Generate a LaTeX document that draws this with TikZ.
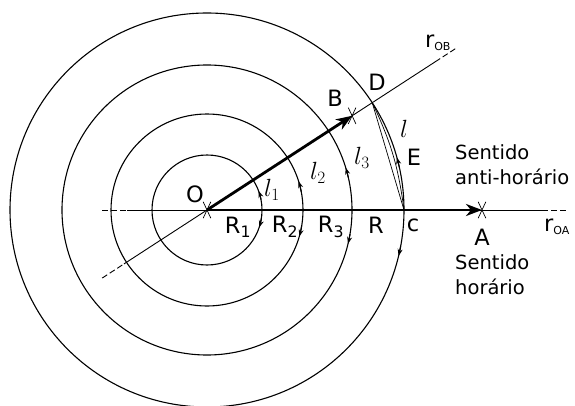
\documentclass[tikz,border=0pt]{standalone}
\usepackage{fontspec}
\setmainfont{DejaVu Sans}
\usetikzlibrary{arrows.meta,calc}
\begin{document}
\begin{tikzpicture}[x=1pt,y=1pt,
  font=\fontsize{22.5}{25}\selectfont,
  circ/.style={line width=1.1pt},
  axis/.style={line width=0.9pt},
  dashpart/.style={line width=0.9pt,dash pattern=on 6pt off 3pt},
  bigarrow/.style={line width=2.8pt,-{Stealth[length=16pt,width=12pt,inset=5pt]}},
  smallarrow/.style={line width=1.1pt,-{Stealth[length=7pt,width=5pt]}},
  thinline/.style={line width=0.7pt},
  lbl/.style={inner sep=0pt},
  txt/.style={inner sep=0pt,anchor=west,align=left,font=\fontsize{19.5}{25}\selectfont},
  ell/.style={inner sep=0pt,font=\fontsize{26}{26}\selectfont},
  crossmark/.style={line width=0.7pt}]
\useasboundingbox (0,0) rectangle (575,405);
\coordinate (O) at (207,195);
\coordinate (A) at (482,195);
\coordinate (B) at ($(O)+(33:173)$);
\coordinate (D) at ($(O)+(33:197)$);
\coordinate (c) at ($(O)+(0:197)$);
% circles
\foreach \r in {55,96,145,197} \draw[circ] (O) circle[radius=\r];
% horizontal line r_OA
\coordinate (hl1) at (102,195);
\coordinate (hl2) at (127,195);
\coordinate (hr1) at (542,195);
\coordinate (hr2) at (567,195);
\draw[dashpart] (hl1) -- (hl2);
\draw[axis] (hl2) -- (hr1);
\draw[dashpart] (hr1) -- (hr2);
% oblique line r_OB
\coordinate (ol1) at ($(O)+(213:125)$);
\coordinate (ol2) at ($(O)+(213:99)$);
\coordinate (or1) at ($(O)+(33:272)$);
\coordinate (or2) at ($(O)+(33:298)$);
\draw[dashpart] (ol1) -- (ol2);
\draw[axis] (ol2) -- (or1);
\draw[dashpart] (or1) -- (or2);
% thick arrows
\draw[bigarrow] (O) -- (A);
\draw[bigarrow] (O) -- (B);
% crosses
\foreach \p in {O,B,A}
  \draw[crossmark] ($(\p)+(65:9)$) -- ($(\p)+(245:9)$) ($(\p)+(115:9)$) -- ($(\p)+(295:9)$);
% chord and curve from c to D
\draw[thinline] (c) -- (D);
\draw[thinline] (c) to[bend right=9] (D);
% small arrows on circles
\foreach \r/\a/\b in {55/11/20.5, 55/-9/-18.5, 96/11/17.5, 96/-9.5/-16, 145/13/17, 145/-9.5/-13.5, 197/-10.5/-13.5, 197/12.5/15.5}
  \draw[smallarrow] ($(O)+(\a:\r)$) arc[start angle=\a,end angle=\b,radius=\r];
% labels
\node[lbl] (lO) at (195,211) {O};
\node[lbl] (lB) at (335,307) {B};
\node[lbl] (lD) at (377,323) {D};
\node[ell] (ll) at (404,276) {$l$};
\node[lbl] (lE) at (414,248) {E};
\node[txt] (anti) at (455,240) {Sentido\\anti-horário};
\node[txt] (hor) at (455,130) {Sentido\\horário};
\node[lbl] (lA) at (482,168) {A};
\node[lbl] (lrOA) at (557,178) {r\textsubscript{\fontsize{11}{11}\selectfont OA}};
\node[lbl] (lrOB) at (438,362) {r\textsubscript{\fontsize{11}{11}\selectfont OB}};
\node[lbl] (lc) at (413,180) {c};
\node[lbl] (lR) at (376,180) {R};
\node[lbl] (lR3) at (331,178) {R\textsubscript{3}};
\node[lbl] (lR2) at (285,178) {R\textsubscript{2}};
\node[lbl] (lR1) at (238,178) {R\textsubscript{1}};
\node[ell] (ll1) at (272,215) {$l_1$};
\node[ell] (ll2) at (318,232) {$l_2$};
\node[ell] (ll3) at (362,247) {$l_3$};
\end{tikzpicture}
\end{document}
